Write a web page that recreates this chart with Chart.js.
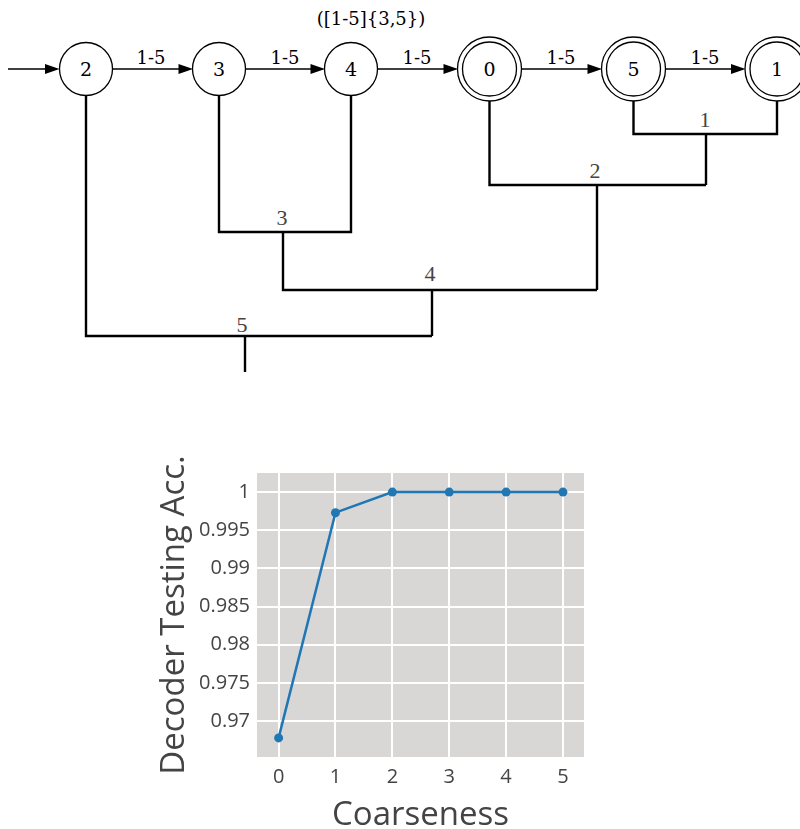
<!DOCTYPE html>
<html>
<head>
<meta charset="utf-8">
<script src="https://cdn.jsdelivr.net/npm/chart.js@4.4.1/dist/chart.umd.min.js"></script>
<style>
  html, body { margin: 0; padding: 0; background: #fff; overflow: hidden; }
  #page { position: relative; width: 800px; height: 829px; }
  #diagram { position: absolute; left: 0; top: 0; }
  #chartBox { position: absolute; left: 0; top: 420px; width: 800px; height: 409px; }
  .node { fill: #fff; stroke: #000; stroke-width: 1.3; }
  .edge { stroke: #000; stroke-width: 1.3; fill: none; }
  .tree { stroke: #000; stroke-width: 2.4; fill: none; }
  .nlab { font-family: "DejaVu Serif"; font-size: 19px; fill: #000; text-anchor: middle; }
  .elab { font-family: "DejaVu Serif"; font-size: 18px; fill: #000; text-anchor: middle; }
  .tlab { font-family: "Liberation Serif"; font-size: 22px; fill: #444; text-anchor: middle; }
</style>
</head>
<body>
<div id="page">
  <svg id="diagram" width="800" height="400" xmlns="http://www.w3.org/2000/svg">
    <text class="elab" x="371" y="25">([1-5]{3,5})</text>

    <!-- edges -->
    <line class="edge" x1="8" y1="69" x2="46" y2="69"/>
    <polygon points="45,64 59.5,69 45,74"/>
    <line class="edge" x1="112.5" y1="69" x2="179" y2="69"/>
    <polygon points="178.5,64 193,69 178.5,74"/>
    <line class="edge" x1="245.5" y1="69" x2="311" y2="69"/>
    <polygon points="310.5,64 325,69 310.5,74"/>
    <line class="edge" x1="377.5" y1="69" x2="444" y2="69"/>
    <polygon points="443.5,64 458,69 443.5,74"/>
    <line class="edge" x1="521.5" y1="69" x2="588" y2="69"/>
    <polygon points="587.5,64 602,69 587.5,74"/>
    <line class="edge" x1="665.5" y1="69" x2="732" y2="69"/>
    <polygon points="731,64 745.5,69 731,74"/>

    <text class="elab" x="151" y="64">1-5</text>
    <text class="elab" x="285" y="64">1-5</text>
    <text class="elab" x="417" y="64">1-5</text>
    <text class="elab" x="561" y="64">1-5</text>
    <text class="elab" x="705" y="64">1-5</text>

    <!-- states -->
    <circle class="node" cx="86" cy="69" r="26.5"/>
    <circle class="node" cx="219" cy="69" r="26.5"/>
    <circle class="node" cx="351" cy="69" r="26.5"/>
    <circle class="node" cx="489.5" cy="69" r="32"/>
    <circle class="node" cx="489.5" cy="69" r="27"/>
    <circle class="node" cx="633.5" cy="69" r="32"/>
    <circle class="node" cx="633.5" cy="69" r="27"/>
    <circle class="node" cx="777" cy="69" r="32"/>
    <circle class="node" cx="777" cy="69" r="27"/>

    <text class="nlab" x="86" y="76">2</text>
    <text class="nlab" x="219" y="76">3</text>
    <text class="nlab" x="351" y="76">4</text>
    <text class="nlab" x="489.5" y="76">0</text>
    <text class="nlab" x="633.5" y="76">5</text>
    <text class="nlab" x="777" y="76">1</text>

    <!-- merge tree -->
    <polyline class="tree" points="633.5,101 633.5,134 777,134 777,101"/>
    <polyline class="tree" points="706,134 706,185"/>
    <polyline class="tree" points="489.5,101 489.5,185 706,185"/>
    <polyline class="tree" points="597,185 597,290"/>
    <polyline class="tree" points="219,95.5 219,232 351,232 351,95.5"/>
    <polyline class="tree" points="283,232 283,290 597,290"/>
    <polyline class="tree" points="432,290 432,336"/>
    <polyline class="tree" points="86,95.5 86,336 432,336"/>
    <polyline class="tree" points="245,336 245,372"/>

    <text class="tlab" x="705" y="127">1</text>
    <text class="tlab" x="595" y="178">2</text>
    <text class="tlab" x="282" y="225">3</text>
    <text class="tlab" x="430" y="281">4</text>
    <text class="tlab" x="242" y="332">5</text>
  </svg>

  <div id="chartBox"><canvas id="chart" width="800" height="409"></canvas></div>
</div>

<script>
const coarseness = [0, 1, 2, 3, 4, 5];
const accuracy = [0.9678, 0.9973, 1, 1, 1, 1];
const xTicks = [0, 1, 2, 3, 4, 5];
const yTicks = [0.97, 0.975, 0.98, 0.985, 0.99, 0.995, 1];

const panelBg = {
    id: "panelBg",
    beforeDraw(chart) {
        const a = chart.chartArea;
        const ctx = chart.ctx;
        ctx.save();
        ctx.fillStyle = "rgb(217,214,214)";
        ctx.fillRect(a.left, a.top, a.right - a.left, a.bottom - a.top);
        ctx.restore();
    }
};

const tickFont = { family: "'Open Sans'", size: 20 };
const titleFont = { family: "'Open Sans'", size: 33 };

new Chart("chart", {
    type: "line",
    data: {
        datasets: [{
            data: coarseness.map((c, i) => ({ x: c, y: accuracy[i] })),
            borderColor: "#1f77b4",
            backgroundColor: "#1f77b4",
            borderWidth: 2.5,
            pointRadius: 4.5,
            pointBorderWidth: 0,
            tension: 0,
            clip: false
        }]
    },
    options: {
        responsive: false,
        animation: false,
        devicePixelRatio: 1,
        layout: { padding: { left: 158, right: 216, top: 53, bottom: 0 } },
        plugins: { legend: { display: false }, tooltip: { enabled: false } },
        scales: {
            x: {
                type: "linear",
                min: -0.38,
                max: 5.37,
                afterBuildTicks: s => { s.ticks = xTicks.map(v => ({ value: v })); },
                afterFit: s => { s.height = 72; },
                grid: { color: "#fff", lineWidth: 2, drawTicks: false },
                border: { display: false },
                ticks: { color: "#444", font: tickFont, padding: 8, callback: v => String(v) },
                title: {
                    display: true, text: "Coarseness", color: "#444",
                    font: Object.assign({ lineHeight: 0.79 }, titleFont), padding: 0
                }
            },
            y: {
                min: 0.9653,
                max: 1.0025,
                afterBuildTicks: s => { s.ticks = yTicks.map(v => ({ value: v })); },
                afterFit: s => { s.width = 99; },
                grid: { color: "#fff", lineWidth: 2, drawTicks: false },
                border: { display: false },
                ticks: { color: "#444", font: tickFont, padding: 7, callback: v => String(+v.toFixed(3)) },
                title: {
                    display: true, text: "Decoder Testing Acc.", color: "#444",
                    font: Object.assign({ lineHeight: 1 }, titleFont), padding: 0
                }
            }
        }
    },
    plugins: [panelBg]
});
</script>
</body>
</html>
